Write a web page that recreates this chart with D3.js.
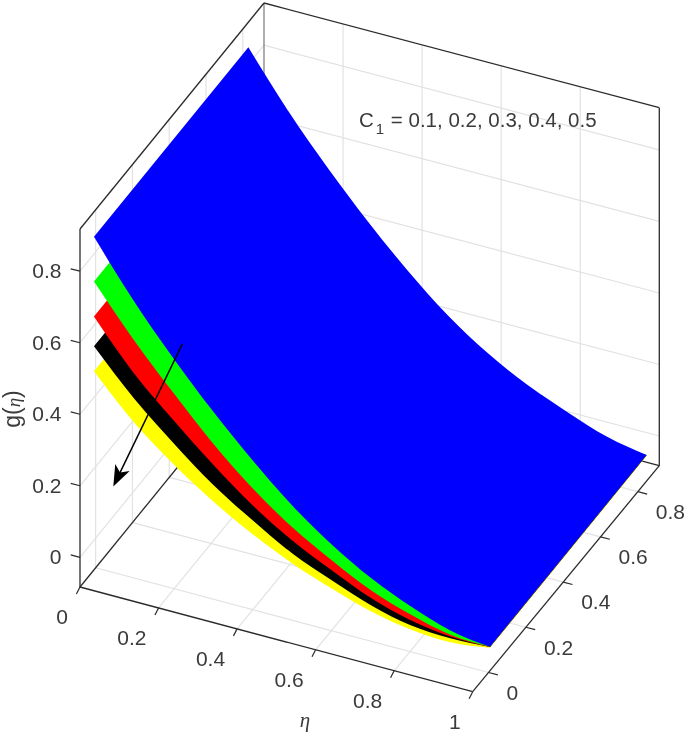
<!DOCTYPE html>
<html>
<head>
<meta charset="utf-8">
<script src="https://cdn.jsdelivr.net/npm/d3@7"></script>
<style>
  body { margin: 0; background: #fff; }
  text { font-family: "Liberation Sans", Arial, sans-serif; fill: #3a3a3a; }
</style>
</head>
<body>
<div id="viz"></div>
<script>
/* global d3 */

// general variables
var w = 685
var h = 737

// data
var etaValues = [0, 0.101, 0.202, 0.302, 0.403, 0.504, 0.605, 0.706, 0.806, 0.907, 1.008]
var surfaceY = [-0.009, 0.83]
var g05 = [0.472, 0.360, 0.272, 0.198, 0.135, 0.083, 0.042, 0.007, -0.014, -0.020, -0.006]
var g04 = [0.542, 0.427, 0.331, 0.245, 0.174, 0.111, 0.065, 0.024, -0.002, -0.009, -0.004]
var g03 = [0.625, 0.497, 0.395, 0.301, 0.216, 0.147, 0.093, 0.044, 0.012, -0.004, -0.004]
var g02 = [0.723, 0.590, 0.471, 0.360, 0.264, 0.184, 0.121, 0.066, 0.028, 0.001, -0.003]
var g01 = [0.848, 0.699, 0.568, 0.450, 0.342, 0.245, 0.165, 0.100, 0.051, 0.013, -0.003]
var backLift = [0, 0, 0, 0, 0, 0.002, 0.006, 0.011, 0.014, 0.012, 0.006] // far edge sits a bit higher
var colors = ["#ffff00", "#000000", "#ff0000", "#00ff00", "#0000ff"] // drawn back to front
var etaTicks = [0, 0.2, 0.4, 0.6, 0.8, 1]
var yTicks = [0, 0.2, 0.4, 0.6, 0.8]
var zTicks = [0, 0.2, 0.4, 0.6, 0.8]

// axis limits, scales give the fraction along each box edge
var etaScale = d3.scaleLinear().domain([0, 1]).range([0, 1])
var yScale = d3.scaleLinear().domain([-0.085, 0.915]).range([0, 1])
var zScale = d3.scaleLinear().domain([-0.083, 0.918]).range([0, 358])

// 3d view: slightly non parallel box, as in the figure
function project(eta, y, z) {
  var e = etaScale(eta)
  var v = yScale(y)
  return [
    80 + 392.7 * e + (184 + 2.6 * e) * v,
    587 + 104.7 * e - 226 * v - zScale(z)
  ]
}

var etaMin = etaScale.domain()[0], etaMax = etaScale.domain()[1]
var yMin = yScale.domain()[0], yMax = yScale.domain()[1]
var zMin = zScale.domain()[0], zMax = zScale.domain()[1]

var svg = d3.select("#viz")
  .append("svg")
  .attr("width", w)
  .attr("height", h)

// the reference is a soft upscaled picture
svg.append("filter").attr("id", "soft")
  .append("feGaussianBlur").attr("stdDeviation", 0.45)

var chart = svg.append("g").attr("filter", "url(#soft)")

var seg = d3.line()

function drawLine(a, b, color, width) {
  chart.append("path")
    .attr("d", seg([a, b]))
    .attr("fill", "none")
    .attr("stroke", color)
    .attr("stroke-width", width)
}

// grid
var gridColor = "#e2e2e2"
etaTicks.slice(1, 5).forEach(e => {
  drawLine(project(e, yMin, zMin), project(e, yMax, zMin), gridColor, 1.2)
  drawLine(project(e, yMax, zMin), project(e, yMax, zMax), gridColor, 1.2)
})
yTicks.forEach(y => {
  drawLine(project(etaMin, y, zMin), project(etaMax, y, zMin), gridColor, 1.2)
  drawLine(project(etaMin, y, zMin), project(etaMin, y, zMax), gridColor, 1.2)
})
zTicks.forEach(z => {
  drawLine(project(etaMin, yMin, z), project(etaMin, yMax, z), gridColor, 1.2)
  drawLine(project(etaMin, yMax, z), project(etaMax, yMax, z), gridColor, 1.2)
})

// box lines
var boxColor = "#2b2b2b"
drawLine(project(etaMin, yMax, zMin), project(etaMin, yMax, zMax), "#777", 1.2)
drawLine(project(etaMin, yMin, zMin), project(etaMin, yMax, zMin), boxColor, 1.3)
drawLine(project(etaMin, yMax, zMin), project(etaMax, yMax, zMin), boxColor, 1.3)
drawLine(project(etaMin, yMin, zMax), project(etaMin, yMax, zMax), boxColor, 1.3)
drawLine(project(etaMin, yMax, zMax), project(etaMax, yMax, zMax), boxColor, 1.3)
drawLine(project(etaMax, yMax, zMin), project(etaMax, yMax, zMax), boxColor, 1.3)

// surfaces
var edge = d3.line().curve(d3.curveMonotoneX)
var series = [g05, g04, g03, g02, g01]
series.forEach((g, i) => {
  var front = etaValues.map((e, k) => project(e, surfaceY[0], g[k]))
  var back = etaValues.map((e, k) => project(e, surfaceY[1], g[k] + backLift[k])).reverse()
  chart.append("path")
    .attr("d", edge(front) + "L" + edge(back).slice(1) + "Z")
    .attr("fill", colors[i])
})

// front axes, on top of the surfaces
drawLine(project(etaMin, yMin, zMin), project(etaMax, yMin, zMin), boxColor, 1.3)
drawLine(project(etaMax, yMin, zMin), project(etaMax, yMax, zMin), boxColor, 1.3)
drawLine(project(etaMin, yMin, zMin), project(etaMin, yMin, zMax), boxColor, 1.3)

// ticks and their labels
var fontSize = 21

etaTicks.forEach(e => {
  var p = project(e, yMin, zMin)
  drawLine(p, [p[0] - 3.6, p[1] + 7], boxColor, 1.2)
  chart.append("text")
    .attr("x", p[0] - 12).attr("y", p[1] + 30)
    .attr("dy", "0.35em")
    .attr("text-anchor", "end")
    .attr("font-size", fontSize)
    .text(e)
})

yTicks.forEach(y => {
  var p = project(etaMax, y, zMin)
  drawLine(p, [p[0] + 9.3, p[1] + 2.4], boxColor, 1.2)
  chart.append("text")
    .attr("x", p[0] + 18).attr("y", p[1] + 20)
    .attr("dy", "0.35em")
    .attr("text-anchor", "start")
    .attr("font-size", fontSize)
    .text(y)
})

zTicks.forEach(z => {
  var p = project(etaMin, yMin, z)
  drawLine(p, [p[0] - 9.3, p[1] - 2.4], boxColor, 1.2)
  chart.append("text")
    .attr("x", p[0] - 18.5).attr("y", p[1] - 0.5)
    .attr("dy", "0.35em")
    .attr("text-anchor", "end")
    .attr("font-size", fontSize)
    .text(z)
})

// axis labels
var zLabel = chart.append("text")
  .attr("transform", "translate(20,409) rotate(-90)")
  .attr("text-anchor", "middle")
  .attr("font-size", 23)
zLabel.append("tspan").text("g(")
zLabel.append("tspan").style("font-family", "Liberation Serif").attr("font-style", "italic").attr("font-size", 19).text("η")
zLabel.append("tspan").text(")")

chart.append("text")
  .attr("x", 305).attr("y", 727)
  .attr("text-anchor", "middle")
  .attr("font-style", "italic")
  .attr("font-size", 21)
  .style("font-family", "Liberation Serif")
  .text("η")

// annotation
var note = chart.append("text")
  .attr("x", 359).attr("y", 127)
  .attr("font-size", 20.5)
note.append("tspan").text("C")
note.append("tspan").attr("dx", 2).attr("dy", 7).attr("font-size", 15).text("1")
note.append("tspan").attr("dx", 1).attr("dy", -7).text(" = 0.1, 0.2, 0.3, 0.4, 0.5")

// arrow
var tail = [182.3, 344]
var tip = [113.3, 486.5]
var len = Math.hypot(tip[0] - tail[0], tip[1] - tail[1])
var d = [(tip[0] - tail[0]) / len, (tip[1] - tail[1]) / len]
var n = [d[1], -d[0]]
function headPt(along, across) {
  return [tip[0] - d[0] * along + n[0] * across, tip[1] - d[1] * along + n[1] * across]
}
drawLine(tail, headPt(14, 0), "#000", 1.5)
chart.append("path")
  .attr("d", seg([tip, headPt(21, -8), headPt(15.5, 0), headPt(21, 8)]) + "Z")
  .attr("fill", "#000")
</script>
</body>
</html>
